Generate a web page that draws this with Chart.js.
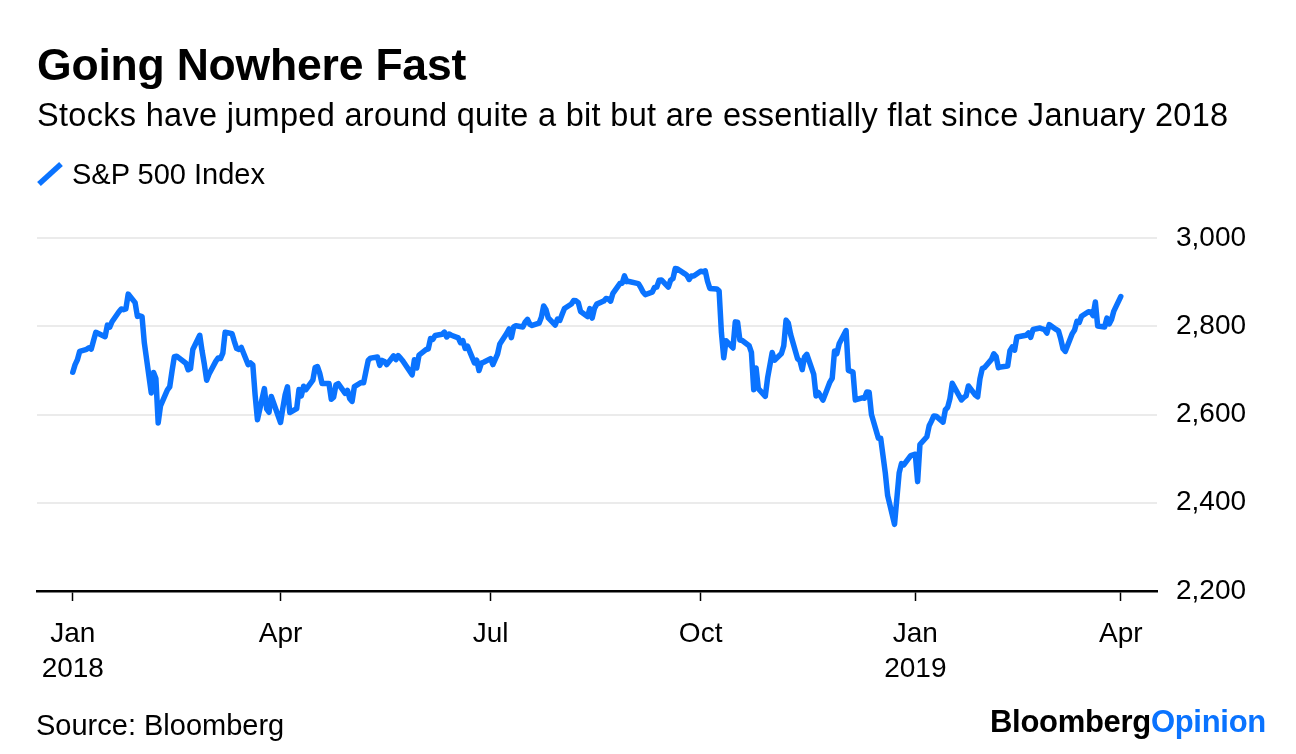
<!DOCTYPE html>
<html>
<head>
<meta charset="utf-8">
<script src="https://cdn.jsdelivr.net/npm/chart.js@4.4.1/dist/chart.umd.min.js"></script>
<style>
  html, body { margin: 0; padding: 0; background: #fff; }
  body { width: 1296px; height: 754px; position: relative; overflow: hidden; font-family: 'Liberation Sans', Arial, sans-serif; color: #000; }
  .txt { position: absolute; white-space: nowrap; line-height: 1; }
  #title { left: 37px; top: 42.5px; font-size: 44.5px; font-weight: bold; letter-spacing: -0.2px; }
  #subtitle { left: 37px; top: 98.5px; font-size: 32.5px; letter-spacing: 0.3px; }
  #legend { left: 72px; top: 159.5px; font-size: 29px; }
  #legendMark { position: absolute; left: 34px; top: 159px; }
  #source { left: 36px; top: 710.5px; font-size: 29px; }
  #logo { left: 990px; top: 706px; font-size: 31px; font-weight: bold; letter-spacing: -0.3px; }
  #logo span { color: #0a73ff; }
  #wrap { position: absolute; left: 0; top: 0; width: 1296px; height: 754px; }
</style>
</head>
<body>
<div id="wrap"><canvas id="chart" width="1296" height="754"></canvas></div>
<div class="txt" id="title">Going Nowhere Fast</div>
<div class="txt" id="subtitle">Stocks have jumped around quite a bit but are essentially flat since January 2018</div>
<svg id="legendMark" width="32" height="32"><line x1="5" y1="25" x2="27" y2="5" stroke="#0a73ff" stroke-width="5.5"/></svg>
<div class="txt" id="legend">S&amp;P 500 Index</div>
<div class="txt" id="source">Source: Bloomberg</div>
<div class="txt" id="logo">Bloomberg<span>Opinion</span></div>

<script>
// S&P 500 daily closes, Jan 2018 - Apr 2019
const dates = [
  '2018-01-02','2018-01-03','2018-01-04','2018-01-05','2018-01-08','2018-01-09','2018-01-10','2018-01-11','2018-01-12','2018-01-16','2018-01-17','2018-01-18','2018-01-19','2018-01-22','2018-01-23','2018-01-24','2018-01-25','2018-01-26','2018-01-29','2018-01-30','2018-01-31',
  '2018-02-01','2018-02-02','2018-02-05','2018-02-06','2018-02-07','2018-02-08','2018-02-09','2018-02-12','2018-02-13','2018-02-14','2018-02-15','2018-02-16','2018-02-20','2018-02-21','2018-02-22','2018-02-23','2018-02-26','2018-02-27','2018-02-28',
  '2018-03-01','2018-03-02','2018-03-05','2018-03-06','2018-03-07','2018-03-08','2018-03-09','2018-03-12','2018-03-13','2018-03-14','2018-03-15','2018-03-16','2018-03-19','2018-03-20','2018-03-21','2018-03-22','2018-03-23','2018-03-26','2018-03-27','2018-03-28','2018-03-29',
  '2018-04-02','2018-04-03','2018-04-04','2018-04-05','2018-04-06','2018-04-09','2018-04-10','2018-04-11','2018-04-12','2018-04-13','2018-04-16','2018-04-17','2018-04-18','2018-04-19','2018-04-20','2018-04-23','2018-04-24','2018-04-25','2018-04-26','2018-04-27','2018-04-30',
  '2018-05-01','2018-05-02','2018-05-03','2018-05-04','2018-05-07','2018-05-08','2018-05-09','2018-05-10','2018-05-11','2018-05-14','2018-05-15','2018-05-16','2018-05-17','2018-05-18','2018-05-21','2018-05-22','2018-05-23','2018-05-24','2018-05-25','2018-05-29','2018-05-30','2018-05-31',
  '2018-06-01','2018-06-04','2018-06-05','2018-06-06','2018-06-07','2018-06-08','2018-06-11','2018-06-12','2018-06-13','2018-06-14','2018-06-15','2018-06-18','2018-06-19','2018-06-20','2018-06-21','2018-06-22','2018-06-25','2018-06-26','2018-06-27','2018-06-28','2018-06-29',
  '2018-07-02','2018-07-03','2018-07-05','2018-07-06','2018-07-09','2018-07-10','2018-07-11','2018-07-12','2018-07-13','2018-07-16','2018-07-17','2018-07-18','2018-07-19','2018-07-20','2018-07-23','2018-07-24','2018-07-25','2018-07-26','2018-07-27','2018-07-30','2018-07-31',
  '2018-08-01','2018-08-02','2018-08-03','2018-08-06','2018-08-07','2018-08-08','2018-08-09','2018-08-10','2018-08-13','2018-08-14','2018-08-15','2018-08-16','2018-08-17','2018-08-20','2018-08-21','2018-08-22','2018-08-23','2018-08-24','2018-08-27','2018-08-28','2018-08-29','2018-08-30','2018-08-31',
  '2018-09-04','2018-09-05','2018-09-06','2018-09-07','2018-09-10','2018-09-11','2018-09-12','2018-09-13','2018-09-14','2018-09-17','2018-09-18','2018-09-19','2018-09-20','2018-09-21','2018-09-24','2018-09-25','2018-09-26','2018-09-27','2018-09-28',
  '2018-10-01','2018-10-02','2018-10-03','2018-10-04','2018-10-05','2018-10-08','2018-10-09','2018-10-10','2018-10-11','2018-10-12','2018-10-15','2018-10-16','2018-10-17','2018-10-18','2018-10-19','2018-10-22','2018-10-23','2018-10-24','2018-10-25','2018-10-26','2018-10-29','2018-10-30','2018-10-31',
  '2018-11-01','2018-11-02','2018-11-05','2018-11-06','2018-11-07','2018-11-08','2018-11-09','2018-11-12','2018-11-13','2018-11-14','2018-11-15','2018-11-16','2018-11-19','2018-11-20','2018-11-21','2018-11-23','2018-11-26','2018-11-27','2018-11-28','2018-11-29','2018-11-30',
  '2018-12-03','2018-12-04','2018-12-06','2018-12-07','2018-12-10','2018-12-11','2018-12-12','2018-12-13','2018-12-14','2018-12-17','2018-12-18','2018-12-19','2018-12-20','2018-12-21','2018-12-24','2018-12-26','2018-12-27','2018-12-28','2018-12-31',
  '2019-01-02','2019-01-03','2019-01-04','2019-01-07','2019-01-08','2019-01-09','2019-01-10','2019-01-11','2019-01-14','2019-01-15','2019-01-16','2019-01-17','2019-01-18','2019-01-22','2019-01-23','2019-01-24','2019-01-25','2019-01-28','2019-01-29','2019-01-30','2019-01-31',
  '2019-02-01','2019-02-04','2019-02-05','2019-02-06','2019-02-07','2019-02-08','2019-02-11','2019-02-12','2019-02-13','2019-02-14','2019-02-15','2019-02-19','2019-02-20','2019-02-21','2019-02-22','2019-02-25','2019-02-26','2019-02-27','2019-02-28',
  '2019-03-01','2019-03-04','2019-03-05','2019-03-06','2019-03-07','2019-03-08','2019-03-11','2019-03-12','2019-03-13','2019-03-14','2019-03-15','2019-03-18','2019-03-19','2019-03-20','2019-03-21','2019-03-22','2019-03-25','2019-03-26','2019-03-27','2019-03-28','2019-03-29',
  '2019-04-01'
];

const closes = [
  2695.81,2713.06,2723.99,2743.15,2747.71,2751.29,2748.23,2767.56,2786.24,2776.42,2802.56,2798.03,2810.30,2832.97,2839.13,2837.54,2839.25,2872.87,2853.53,2822.43,2823.81,
  2821.98,2762.13,2648.94,2695.14,2681.66,2581.00,2619.55,2656.00,2662.94,2698.63,2731.20,2732.22,2716.26,2701.33,2703.96,2747.30,2779.60,2744.28,2713.83,
  2677.67,2691.25,2720.94,2728.12,2726.80,2738.97,2786.57,2783.02,2765.31,2749.48,2747.33,2752.01,2712.92,2716.94,2711.93,2643.69,2588.26,2658.55,2612.62,2605.00,2640.87,
  2581.88,2614.45,2644.69,2662.84,2604.47,2613.16,2656.87,2642.19,2663.99,2656.30,2677.84,2706.39,2708.64,2693.13,2670.14,2670.29,2634.56,2639.40,2666.94,2669.91,2648.05,
  2654.80,2635.67,2629.73,2663.42,2672.63,2671.92,2697.79,2723.07,2727.72,2730.13,2711.45,2722.46,2720.13,2712.97,2733.01,2724.44,2733.29,2727.76,2721.33,2689.86,2724.01,2705.27,
  2734.62,2746.87,2748.80,2772.35,2770.37,2779.03,2782.00,2786.85,2775.63,2782.49,2779.66,2773.75,2762.59,2767.32,2749.76,2754.88,2717.07,2723.06,2699.63,2716.31,2718.37,
  2726.71,2713.22,2736.61,2759.82,2784.17,2793.84,2774.02,2798.29,2801.31,2798.43,2809.55,2815.62,2804.49,2801.83,2806.98,2820.40,2846.07,2837.44,2818.82,2802.60,2816.29,
  2813.36,2827.22,2840.35,2850.40,2858.45,2857.70,2853.58,2833.28,2821.93,2839.96,2818.37,2840.69,2850.13,2857.05,2862.96,2861.82,2856.98,2874.69,2896.74,2897.52,2914.04,2901.13,2901.52,
  2896.72,2888.60,2878.05,2871.68,2877.13,2887.89,2888.92,2904.18,2904.98,2888.80,2904.31,2907.95,2930.75,2929.67,2919.37,2915.56,2905.97,2914.00,2913.98,
  2924.59,2923.43,2925.51,2901.61,2885.57,2884.43,2880.34,2785.68,2728.37,2767.13,2750.79,2809.92,2809.21,2768.78,2767.78,2755.88,2740.69,2656.10,2705.57,2658.69,2641.25,2682.63,2711.74,
  2740.37,2723.06,2738.31,2755.45,2813.89,2806.83,2781.01,2726.22,2722.18,2701.58,2730.20,2736.27,2690.73,2641.89,2649.93,2632.56,2673.45,2682.17,2743.79,2737.80,2760.17,
  2790.37,2700.06,2695.95,2633.08,2637.72,2636.78,2651.07,2650.54,2599.95,2545.94,2546.16,2506.96,2467.42,2416.62,2351.10,2467.70,2488.83,2485.74,2506.85,
  2510.03,2447.89,2531.94,2549.69,2574.41,2584.96,2596.64,2596.26,2582.61,2610.30,2616.10,2635.96,2670.71,2632.90,2638.70,2642.33,2664.76,2643.85,2640.00,2681.05,2704.10,
  2706.53,2724.87,2737.70,2731.61,2706.05,2707.88,2709.80,2744.73,2753.03,2745.73,2775.60,2779.76,2784.70,2774.88,2792.67,2796.11,2793.90,2792.38,2784.49,
  2803.69,2792.81,2789.65,2771.45,2748.93,2743.07,2783.30,2791.52,2810.92,2808.48,2822.48,2832.94,2832.57,2824.23,2854.88,2800.71,2798.36,2818.46,2805.37,2815.44,2834.40,
  2867.19
];

// axis ticks
const tickDates = ['2018-01-02', '2018-04-02', '2018-07-02', '2018-10-01', '2019-01-02', '2019-04-01'];
const tickLabels = [['Jan', '2018'], ['Apr'], ['Jul'], ['Oct'], ['Jan', '2019'], ['Apr']];
const yTicks = [2200, 2400, 2600, 2800, 3000];

const BLUE = '#0a73ff';
const DAY = 86400000;
const base = Date.parse('2018-01-01');
const dayNum = d => (Date.parse(d) - base) / DAY;

const points = dates.map((d, i) => ({ x: dayNum(d), y: closes[i] }));
const tickDays = tickDates.map(dayNum);

Chart.defaults.font.family = "'Liberation Sans', Arial, sans-serif";
Chart.defaults.color = '#000';

new Chart(document.getElementById('chart'), {
    type: 'line',
    data: {
        datasets: [{
            label: 'S&P 500 Index',
            data: points,
            borderColor: BLUE,
            borderWidth: 5.5,
            pointRadius: 0,
            tension: 0,
            borderJoinStyle: 'round',
            borderCapStyle: 'round'
        }]
    },
    options: {
        responsive: false,
        animation: false,
        layout: { padding: { top: 238, left: 37, right: 0, bottom: 0 } },
        plugins: { legend: { display: false }, tooltip: { enabled: false } },
        scales: {
            x: {
                type: 'linear',
                min: -14.5,
                max: 470.7,
                afterBuildTicks: s => { s.ticks = tickDays.map(v => ({ value: v })); },
                afterFit: s => { s.height = 163; },
                grid: { drawOnChartArea: false, drawTicks: true, tickLength: 10, tickWidth: 1.5, tickColor: '#000' },
                border: { display: true, color: '#000', width: 2.5 },
                ticks: {
                    autoSkip: false,
                    maxRotation: 0,
                    padding: 16,
                    font: { size: 28, lineHeight: 1.25 },
                    callback: (v, i) => tickLabels[i]
                }
            },
            y: {
                position: 'right',
                min: 2200,
                max: 3000,
                afterBuildTicks: s => { s.ticks = yTicks.map(v => ({ value: v })); },
                afterFit: s => { s.width = 139; },
                grid: { color: '#ebebeb', lineWidth: 2, drawTicks: false },
                border: { display: false },
                ticks: {
                    padding: 19,
                    font: { size: 28 },
                    callback: v => v.toLocaleString('en-US')
                }
            }
        }
    }
});
</script>
</body>
</html>
